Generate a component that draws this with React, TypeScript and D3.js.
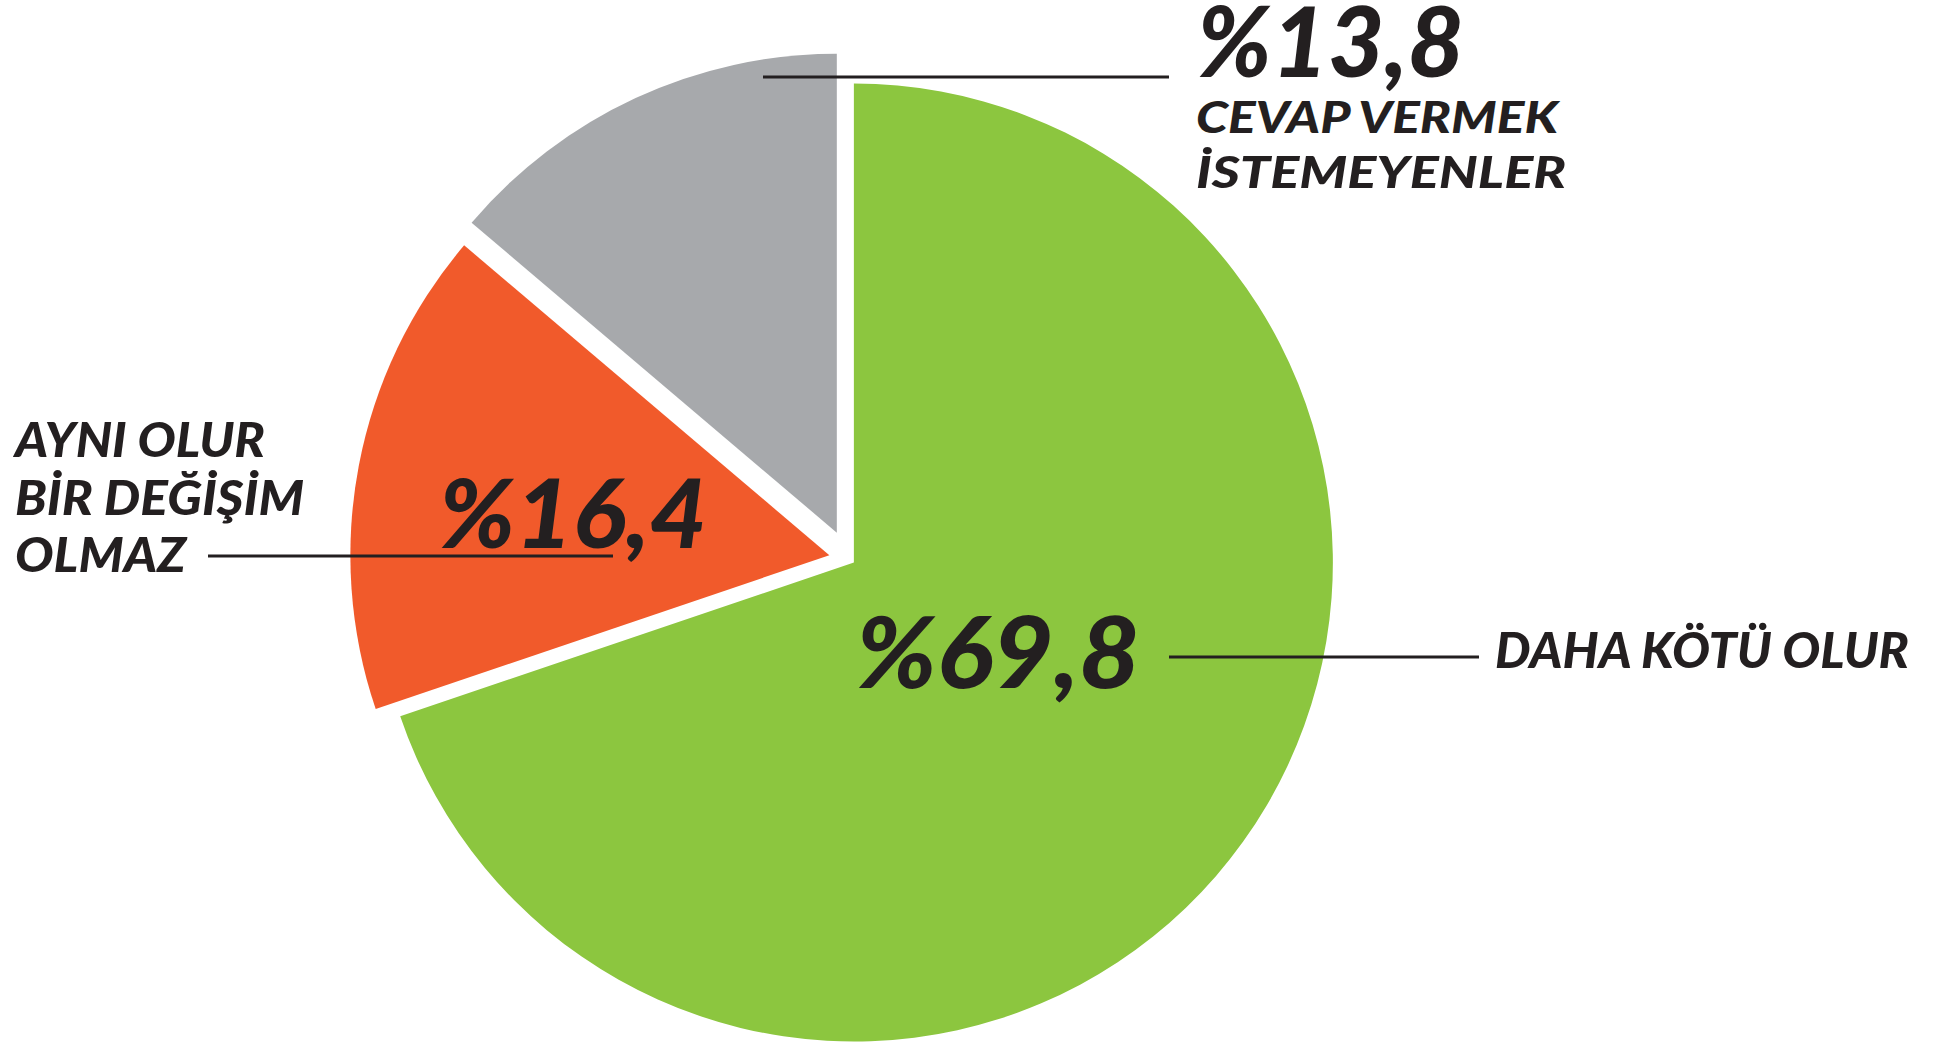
import React, { useEffect, useRef } from 'react'
import * as d3 from 'd3'

// survey answers, clockwise from 12 o'clock
const categories = ['DAHA KÖTÜ OLUR', 'AYNI OLUR BİR DEĞİŞİM OLMAZ', 'CEVAP VERMEK İSTEMEYENLER']
const values = [69.8, 16.4, 13.8]
const valueLabels = ['%69,8', '%16,4', '%13,8']
const colors = ['#8cc63f', '#f15a2b', '#a7a9ac']
// how far each slice is pulled out of the pie
const explode = [6, 20, 29]

const W = 1950
const H = 1045
const INK = '#231f20'
const FONT = 'Lato, Roboto, "Open Sans", sans-serif'

// annotation layout: value text, caption lines and leader line per slice
const annotations = [
  {
    value: { x: 856, y: 688, size: 100, len: 284 },
    lines: [{ text: 'DAHA KÖTÜ OLUR', x: 1495, y: 668, size: 49, len: 414 }],
    leader: [1169, 657, 1479, 657],
  },
  {
    value: { x: 439, y: 548, size: 96, len: 268 },
    lines: [
      { text: 'AYNI OLUR', x: 15, y: 457, size: 48, len: 250 },
      { text: 'BİR DEĞİŞİM', x: 15, y: 515, size: 48, len: 289 },
      { text: 'OLMAZ', x: 15, y: 572, size: 48, len: 171 },
    ],
    leader: [208, 556, 613, 556],
  },
  {
    value: { x: 1197, y: 77, size: 98, len: 267 },
    lines: [
      { text: 'CEVAP VERMEK', x: 1196, y: 133, size: 44, len: 362 },
      { text: 'İSTEMEYENLER', x: 1196, y: 188, size: 44, len: 370 },
    ],
    leader: [763, 77, 1169, 77],
  },
]

function App() {
  const ref = useRef<SVGSVGElement>(null)

  useEffect(() => {
    const svg = d3.select(ref.current)
    svg.selectAll('*').remove()

    const cx = 849
    const cy = 559
    const radius = 479

    const pie = d3.pie<number>().sort(null).value((d) => d)
    const arcs = pie(values)
    const arc = d3.arc<d3.PieArcDatum<number>>().innerRadius(0).outerRadius(radius)

    const g = svg.append('g').attr('transform', `translate(${cx},${cy})`)

    g.selectAll('path')
      .data(arcs)
      .enter()
      .append('path')
      .attr('d', arc)
      .attr('fill', (d, i) => colors[i])
      .attr('transform', (d, i) => {
        const mid = (d.startAngle + d.endAngle) / 2
        const dx = Math.sin(mid) * explode[i]
        const dy = -Math.cos(mid) * explode[i]
        return `translate(${dx},${dy})`
      })

    const labels = svg.append('g')

    annotations.forEach((a, i) => {
      labels
        .append('line')
        .attr('x1', a.leader[0])
        .attr('y1', a.leader[1])
        .attr('x2', a.leader[2])
        .attr('y2', a.leader[3])
        .attr('stroke', INK)
        .attr('stroke-width', 3)

      labels
        .append('text')
        .attr('x', a.value.x)
        .attr('y', a.value.y)
        .attr('font-size', a.value.size)
        .attr('textLength', a.value.len)
        .attr('lengthAdjust', 'spacingAndGlyphs')
        .text(valueLabels[i])

      a.lines.forEach((l) => {
        labels
          .append('text')
          .attr('x', l.x)
          .attr('y', l.y)
          .attr('font-size', l.size)
          .attr('textLength', l.len)
          .attr('lengthAdjust', 'spacingAndGlyphs')
          .text(l.text)
      })
    })

    labels
      .selectAll('text')
      .attr('font-family', FONT)
      .attr('font-weight', 900)
      .attr('font-style', 'italic')
      .attr('fill', INK)
  }, [])

  return (
    <svg
      ref={ref}
      width={W}
      height={H}
      style={{ position: 'absolute', left: 0, top: 0, display: 'block', background: '#fff' }}
    />
  )
}

export default App
